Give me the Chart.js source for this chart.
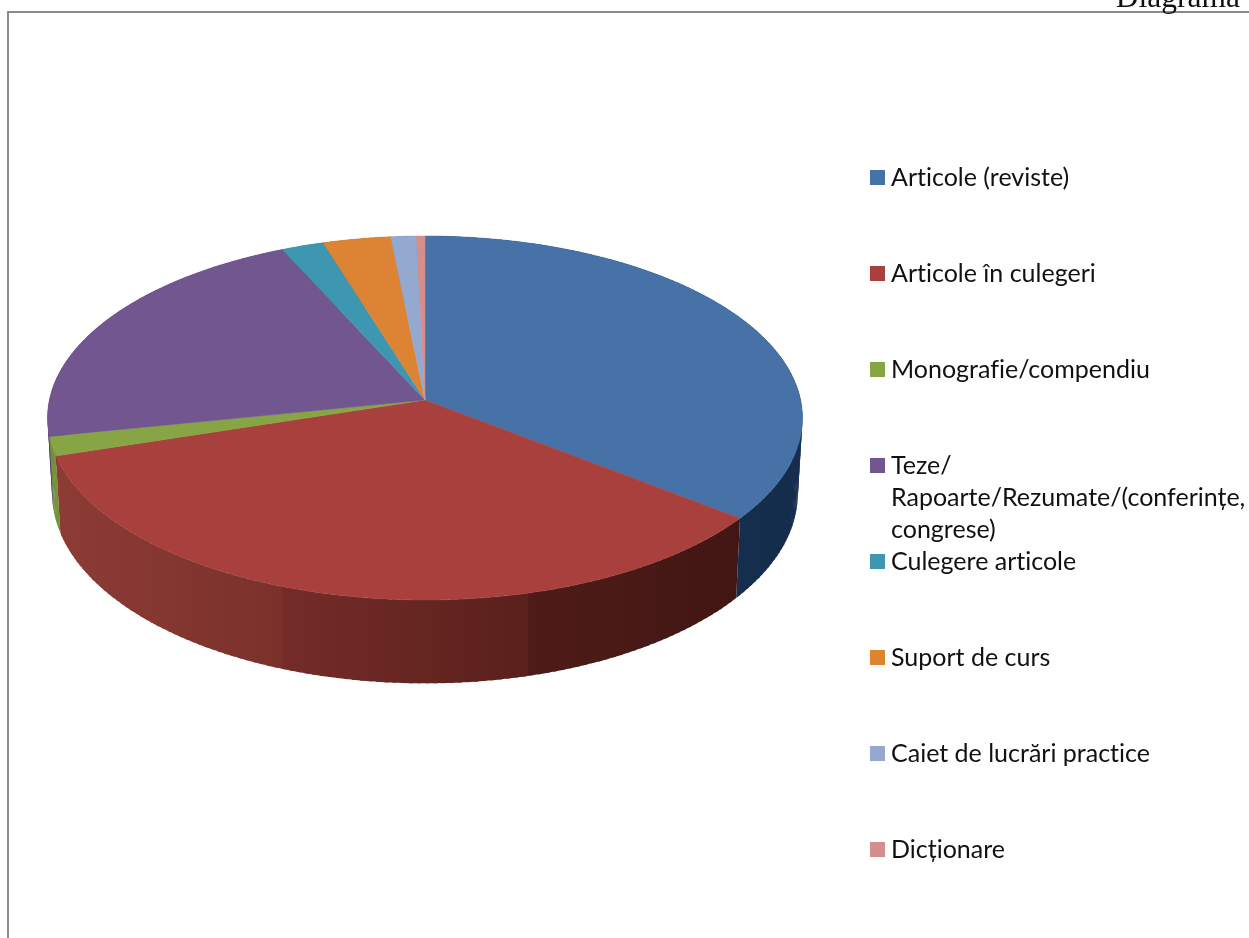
<!DOCTYPE html>
<html>
<head>
<meta charset="utf-8">
<title>Diagrama</title>
<script src="https://cdn.jsdelivr.net/npm/chart.js@4"></script>
<style>
  html, body { margin: 0; padding: 0; background: #fff; overflow: hidden; }
  #box { position: relative; width: 1249px; height: 938px; overflow: hidden; }
  #myChart { position: absolute; left: 0; top: 0; }
  .linie { position: absolute; background: #8a8a8a; }
  #titlu { position: absolute; right: 9px; top: -21px; font: 31.5px "Liberation Serif", serif; color: #111; line-height: 36px; }
  .patrat { position: absolute; left: 870px; width: 15px; height: 15px; }
  .text { position: absolute; left: 891px; font: 25px/32px Lato, sans-serif; font-variant-ligatures: none; color: #111; white-space: pre; }
</style>
</head>
<body>
<div id="box">
  <canvas id="myChart" width="1249" height="938"></canvas>
  <div class="linie" style="left:7px;top:12px;width:2px;height:926px"></div>
  <div class="linie" style="left:7px;top:11px;width:1242px;height:2px"></div>
  <div id="titlu">Diagrama</div>
</div>
<script>
var categorii = [
  "Articole (reviste)",
  "Articole în culegeri",
  "Monografie/compendiu",
  "Teze/\nRapoarte/Rezumate/(conferințe,\ncongrese)",
  "Culegere articole",
  "Suport de curs",
  "Caiet de lucrări practice",
  "Dicționare"
];
var valori = [35.6, 34.6, 1.7, 21.4, 2.0, 3.2, 1.2, 0.4];
var culori = ["#4672a8", "#a8403d", "#87a545", "#71568f", "#3e97b0", "#dc8334", "#94a9d0", "#d48e8c"];
// nuantele peretelui lateral, de la stanga la dreapta
var nuanteLaterale = [
  [[0, "#18365a"], [1, "#152d4c"]],
  [[0, "#8d3b35"], [0.33, "#7b312b"], [0.331, "#752c28"], [0.69, "#5a201c"], [0.691, "#4e1c18"], [1, "#421613"]],
  [[0, "#73933a"], [1, "#73933a"]],
  [[0, "#50396a"], [1, "#50396a"]],
  [[0, "#2a6c80"], [1, "#2a6c80"]],
  [[0, "#a05f22"], [1, "#a05f22"]],
  [[0, "#6a7a98"], [1, "#6a7a98"]],
  [[0, "#9a6462"], [1, "#9a6462"]]
];
var pozitiiLegenda = [177, 273, 369, 465, 561, 657, 753, 849];

// proiectie in perspectiva a discului de sus si a celui de jos
var CX = 425, B = 0.0989;
var sus = { y0: 400, ax: 375.6, ay: 180.2 };
var jos = { y0: 474.7, ax: 371, ay: 188 };

function punct(disc, unghi) {
  var u = Math.cos(unghi), v = Math.sin(unghi);
  var w = 1 - B * v;
  return { x: CX + disc.ax * u / w, y: disc.y0 + disc.ay * v / w };
}

function arcPuncte(disc, start, end) {
  var n = Math.max(2, Math.ceil((end - start) / 0.01));
  var pts = [];
  for (var i = 0; i <= n; i++) {
    pts.push(punct(disc, start + (end - start) * i / n));
  }
  return pts;
}

function traseu(ctx, pts) {
  ctx.beginPath();
  ctx.moveTo(pts[0].x, pts[0].y);
  for (var i = 1; i < pts.length; i++) ctx.lineTo(pts[i].x, pts[i].y);
  ctx.closePath();
}

// felia 3D: peretele lateral si apoi fata de sus
var pie3d = {
  id: "pie3d",
  beforeDatasetDraw: function(chart) {
    var ctx = chart.ctx;
    var arce = chart.getDatasetMeta(0).data.map(function(a, i) {
      return { start: a.startAngle, end: a.endAngle, i: i };
    });

    function vMax(a) {
      var best = Math.max(Math.sin(a.start), Math.sin(a.end));
      if (a.start < Math.PI / 2 && a.end > Math.PI / 2) best = 1;
      return best;
    }

    var ordine = arce.slice().sort(function(a, b) { return vMax(a) - vMax(b); });
    ctx.save();
    ordine.forEach(function(a) {
      var t = arcPuncte(sus, a.start, a.end);
      var b = arcPuncte(jos, a.start, a.end);
      var xs = t.concat(b).map(function(p) { return p.x; });
      var g = ctx.createLinearGradient(Math.min.apply(null, xs), 0, Math.max.apply(null, xs), 0);
      nuanteLaterale[a.i].forEach(function(s) { g.addColorStop(s[0], s[1]); });
      ctx.fillStyle = g;
      // fasii mici suprapuse, ca marginea exterioara sa fie infasuratoarea celor doua discuri
      for (var k = 0; k + 1 < t.length; k += 2) {
        var e = Math.min(k + 3, t.length - 1);
        traseu(ctx, [t[k], t[e], b[e], b[k]]);
        ctx.fill();
      }
    });
    arce.forEach(function(a) {
      var pts = [{ x: CX, y: sus.y0 }].concat(arcPuncte(sus, a.start, a.end));
      ctx.fillStyle = culori[a.i];
      ctx.strokeStyle = culori[a.i];
      ctx.lineWidth = 0.5;
      traseu(ctx, pts);
      ctx.fill();
      ctx.stroke();
    });
    ctx.restore();
    return false;
  }
};

function legenda() {
  var box = document.getElementById("box");
  categorii.forEach(function(c, i) {
    var p = document.createElement("div");
    p.className = "patrat";
    p.style.top = (pozitiiLegenda[i] - 7) + "px";
    p.style.background = culori[i];
    box.appendChild(p);
    var t = document.createElement("div");
    t.className = "text";
    t.style.top = (pozitiiLegenda[i] - 17) + "px";
    t.textContent = c;
    box.appendChild(t);
  });
}

function init() {
  new Chart(document.getElementById("myChart"), {
    type: "pie",
    data: {
      labels: categorii,
      datasets: [{ data: valori, backgroundColor: culori, borderWidth: 0 }]
    },
    options: {
      responsive: false,
      animation: false,
      plugins: { legend: { display: false }, tooltip: { enabled: false } }
    },
    plugins: [pie3d]
  });
  legenda();
}

init();
</script>
</body>
</html>
